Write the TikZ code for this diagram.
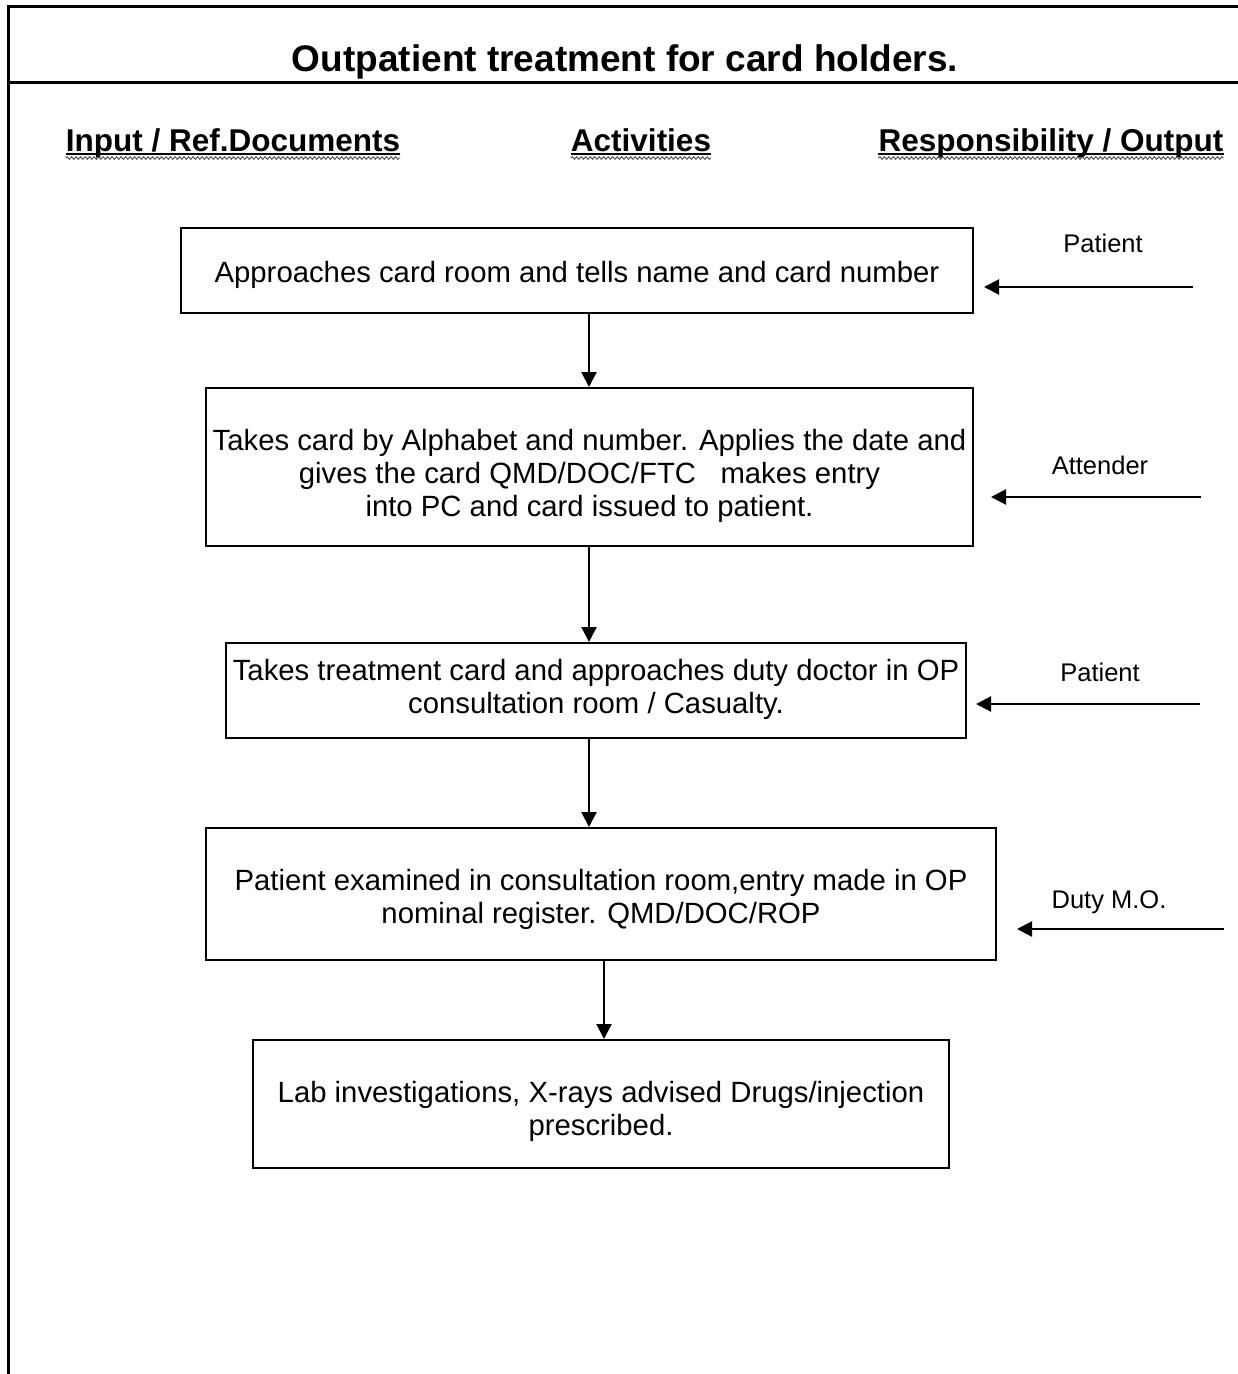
\documentclass[tikz,border=0pt]{standalone}
\usepackage{fontspec}
\setmainfont{Liberation Sans}
\usetikzlibrary{arrows.meta,calc,decorations.pathmorphing}
\begin{document}
\begin{tikzpicture}[x=1pt,y=-1pt,
  frame/.style={line width=3pt},
  stepbox/.style={draw,line width=2pt,inner sep=0pt},
  boxtext/.style={inner sep=0pt,align=center,font=\fontsize{29.3}{33}\selectfont},
  flow/.style={line width=2.2pt,-{Triangle[length=15pt,width=15pt]}},
  rolelabel/.style={font=\fontsize{25.5}{30}\selectfont,inner sep=0pt},
  heading/.style={font=\bfseries\fontsize{31.5}{36}\selectfont,inner sep=0pt,anchor=base},
  uline/.style={line width=2pt},
  squiggle/.style={line width=0.9pt,black!70,decorate,
    decoration={snake,segment length=4.5pt,amplitude=1.3pt}}]
\useasboundingbox (0,0) rectangle (1238,1374);
\fill[white] (0,0) rectangle (1238,1374);

% page frame
\draw[frame] (8,1374) -- (8,6) -- (1238,6);
\draw[frame] (8,82) -- (1238,82);

% title
\node[font=\bfseries\fontsize{37}{42}\selectfont,inner sep=0pt,anchor=base] (title) at (625,71)
  {Outpatient treatment for card holders.};

% column headings
\node[heading] (hin) at (233,151) {Input / Ref.Documents};
\node[heading] (hact) at (641,151) {Activities};
\node[heading] (hres) at (1051,151) {Responsibility / Output};
\foreach \h in {hin,hact,hres}{
  \draw[uline] ($(\h.base west)+(0,3)$) -- ($(\h.base east)+(0,3)$);
  \draw[squiggle] ($(\h.base west)+(0,7)$) -- ($(\h.base east)+(0,7)$);
}

% activity boxes
\node[stepbox,minimum width=792pt,minimum height=85pt] (b1) at (577,270.5) {};
\node[stepbox,minimum width=767pt,minimum height=158pt] (b2) at (589.5,467) {};
\node[stepbox,minimum width=740pt,minimum height=95pt] (b3) at (596,690.5) {};
\node[stepbox,minimum width=790pt,minimum height=132pt] (b4) at (601,894) {};
\node[stepbox,minimum width=696pt,minimum height=128pt] (b5) at (601,1104) {};

% activity texts
\node[boxtext] (t1) at ($(b1.center)+(0,4)$)
  {Approaches card room and tells name and card number};
\node[boxtext] (t2) at ($(b2.center)+(0,9)$)
  {Takes card by Alphabet and number. Applies the date and\\
   gives the card QMD/DOC/FTC\ \ \ makes entry\\
   into PC and card issued to patient.};
\node[boxtext] (t3) at ($(b3.center)+(0,-1)$)
  {Takes treatment card and approaches duty doctor in OP\\
   consultation room / Casualty.};
\node[boxtext] (t4) at ($(b4.center)+(0,5)$)
  {Patient examined in consultation room,entry made in OP\\
   nominal register. QMD/DOC/ROP};
\node[boxtext] (t5) at ($(b5.center)+(0,7)$)
  {Lab investigations, X-rays advised Drugs/injection\\
   prescribed.};

% flow between boxes
\coordinate (xa) at (589,0);
\coordinate (xb) at (604,0);
\draw[flow] (b1.south -| xa) -- (b2.north -| xa);
\draw[flow] (b2.south -| xa) -- (b3.north -| xa);
\draw[flow] (b3.south -| xa) -- (b4.north -| xa);
\draw[flow] (b4.south -| xb) -- (b5.north -| xb);

% responsibilities
\node[rolelabel] (r1) at (1103,243) {Patient};
\node[rolelabel] (r2) at (1100,465) {Attender};
\node[rolelabel] (r3) at (1100,672) {Patient};
\node[rolelabel] (r4) at (1109,902) {Duty M.O.};
\coordinate (e1) at (1193,287);
\coordinate (e2) at (1201,497);
\coordinate (e3) at (1200,704);
\coordinate (e4) at (1224,929);
\draw[flow] (e1) -- ($(b1.east |- e1)+(10,0)$);
\draw[flow] (e2) -- ($(b2.east |- e2)+(17,0)$);
\draw[flow] (e3) -- ($(b3.east |- e3)+(9,0)$);
\draw[flow] (e4) -- ($(b4.east |- e4)+(20,0)$);
\end{tikzpicture}
\end{document}
